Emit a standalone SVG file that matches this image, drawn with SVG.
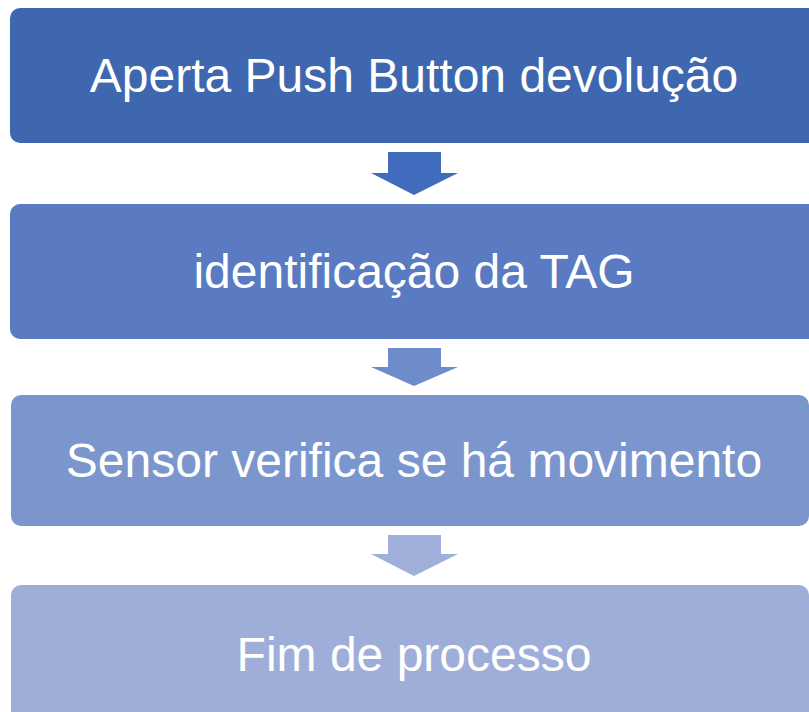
<svg xmlns="http://www.w3.org/2000/svg" width="809" height="712" viewBox="0 0 809 712">
<style>
.box{stroke:none}
.lbl{font-family:"Liberation Sans",Arial,sans-serif;font-size:48px;fill:#ffffff;text-anchor:middle}
</style>
<rect width="809" height="712" fill="#ffffff"/>
<g id="connectors">
<polygon points="388,152 441,152 441,173 458,173 414,195 371,173 388,173" fill="#416BBD"/>
<polygon points="388,348 441,348 441,367 458,367 414,386 371,367 388,367" fill="#6E8CCB"/>
<polygon points="388,535 441,535 441,554 458,554 414,576 371,554 388,554" fill="#A0AFD9"/>
</g>
<g id="node1">
<rect class="box" x="10" y="8" width="810" height="135" rx="10" fill="#3F67B0"/>
<text class="lbl" x="414" y="92">Aperta Push Button devolução</text>
</g>
<g id="node2">
<rect class="box" x="10" y="204" width="810" height="135" rx="10" fill="#5A7BC2"/>
<text class="lbl" x="414" y="288">identificação da TAG</text>
</g>
<g id="node3">
<rect class="box" x="11" y="395" width="798" height="131" rx="10" fill="#7B96CD"/>
<text class="lbl" x="414" y="477">Sensor verifica se há movimento</text>
</g>
<g id="node4">
<rect class="box" x="11" y="585" width="798" height="140" rx="10" fill="#9FAED8"/>
<text class="lbl" x="414" y="671">Fim de processo</text>
</g>
</svg>
